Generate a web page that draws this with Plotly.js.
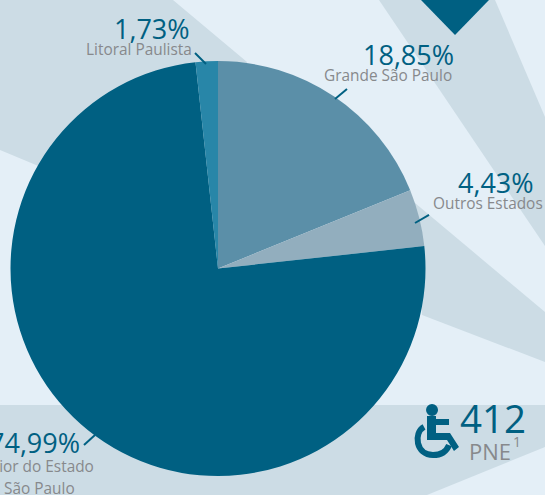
<!DOCTYPE html>
<html><head><meta charset="utf-8">
<script src="https://cdn.plot.ly/plotly-3.0.1.min.js"></script>
<style>html,body{margin:0;padding:0;background:#e4eff7}#c{width:545px;height:495px}</style>
</head><body><div id="c"></div>
<script>
const regions = ["Grande São Paulo","Outros Estados","Interior do Estado de São Paulo","Litoral Paulista"];
const shares = [18.85,4.43,74.99,1.73];
const sliceColors = ["#5b8fa8","#92aebe","#006082","#2886a8"];

const W=545,H=495;
const TEAL="#006082",GRAY="#87898c",BAND="#ccdce5";
const px=x=>(x/W).toFixed(4), py=y=>(1-y/H).toFixed(4);
const poly=(pts,fill)=>({type:'path',xref:'paper',yref:'paper',layer:'below',fillcolor:fill,line:{width:0},
  path:'M'+pts.map(p=>px(p[0])+','+py(p[1])).join('L')+'Z'});
const seg=(a,b,w,color)=>({type:'line',xref:'paper',yref:'paper',layer:'above',x0:+px(a[0]),y0:+py(a[1]),x1:+px(b[0]),y1:+py(b[1]),line:{color:color||TEAL,width:w||2}});
const label=(t,x,y,size,color,anchor)=>({text:t,x:+px(x),y:+py(y),xref:'paper',yref:'paper',showarrow:false,xanchor:anchor||'right',yanchor:'middle',
  font:{family:'"Open Sans",sans-serif',size:size,color:color},borderpad:0,borderwidth:0});

const shapes=[
  poly([[0,0],[173,0],[247,62],[218,268],[36,165],[0,150]],BAND),
  poly([[379,0],[495,0],[545,117],[545,246]],BAND),
  poly([[415,203],[545,312],[545,362],[422,315]],BAND),
  poly([[0,405],[545,405],[545,447],[427,495],[0,495]],BAND),
  poly([[421,0],[489,0],[455,35]],TEAL),
  seg([195,53],[206,64]),
  seg([335,99],[347,89]),
  seg([415,223],[429,215]),
  seg([84,445],[95,435]),
  {type:'circle',xref:'paper',yref:'paper',layer:'above',x0:+px(426),x1:+px(438),y0:+py(404),y1:+py(416),fillcolor:TEAL,line:{width:0}},
  poly([[427,416],[436,416],[436,419],[449,419],[449,425],[436,425],[436,433],[450,433],[459,447],[454,451],[447,440],[427,440]],TEAL),
  {type:'path',xref:'paper',yref:'paper',layer:'above',fillcolor:'rgba(0,0,0,0)',line:{color:TEAL,width:6},
   path:`M${px(424)},${py(427)}C${px(413)},${py(433)} ${px(416)},${py(455)} ${px(433)},${py(455)}C${px(442)},${py(455)} ${px(447)},${py(450)} ${px(449)},${py(445)}`}
];

const annotations=[
  label("1,73%",190,28,27,TEAL),
  label(regions[3],192,50,15.4,GRAY),
  label("18,85%",454,54,27,TEAL),
  label(regions[0],452,76,15.4,GRAY),
  label("4,43%",534,182,27,TEAL),
  label(regions[1],543,204,15.4,GRAY),
  label("74,99%",80,443,27,TEAL),
  label("Interior do Estado",94,467,15.4,GRAY),
  label("de São Paulo",75,488,15.4,GRAY),
  label("412",526,418,38.5,TEAL),
  label("PNE",511,451,22,GRAY),
  label("1",521,442,14,GRAY)
];

Plotly.newPlot('c',[{
  type:'pie',labels:regions,values:shares,sort:false,direction:'clockwise',rotation:0,
  marker:{colors:sliceColors,line:{width:0}},textinfo:'none',hoverinfo:'none',showlegend:false,
  domain:{x:[10.5/W,425.5/W],y:[1-476/H,1-61/H]}
}],{
  width:W,height:H,margin:{l:0,r:0,t:0,b:0},paper_bgcolor:'#e4eff7',plot_bgcolor:'#e4eff7',showlegend:false,
  shapes:shapes,annotations:annotations
},{displayModeBar:false,staticPlot:true});
</script></body></html>
